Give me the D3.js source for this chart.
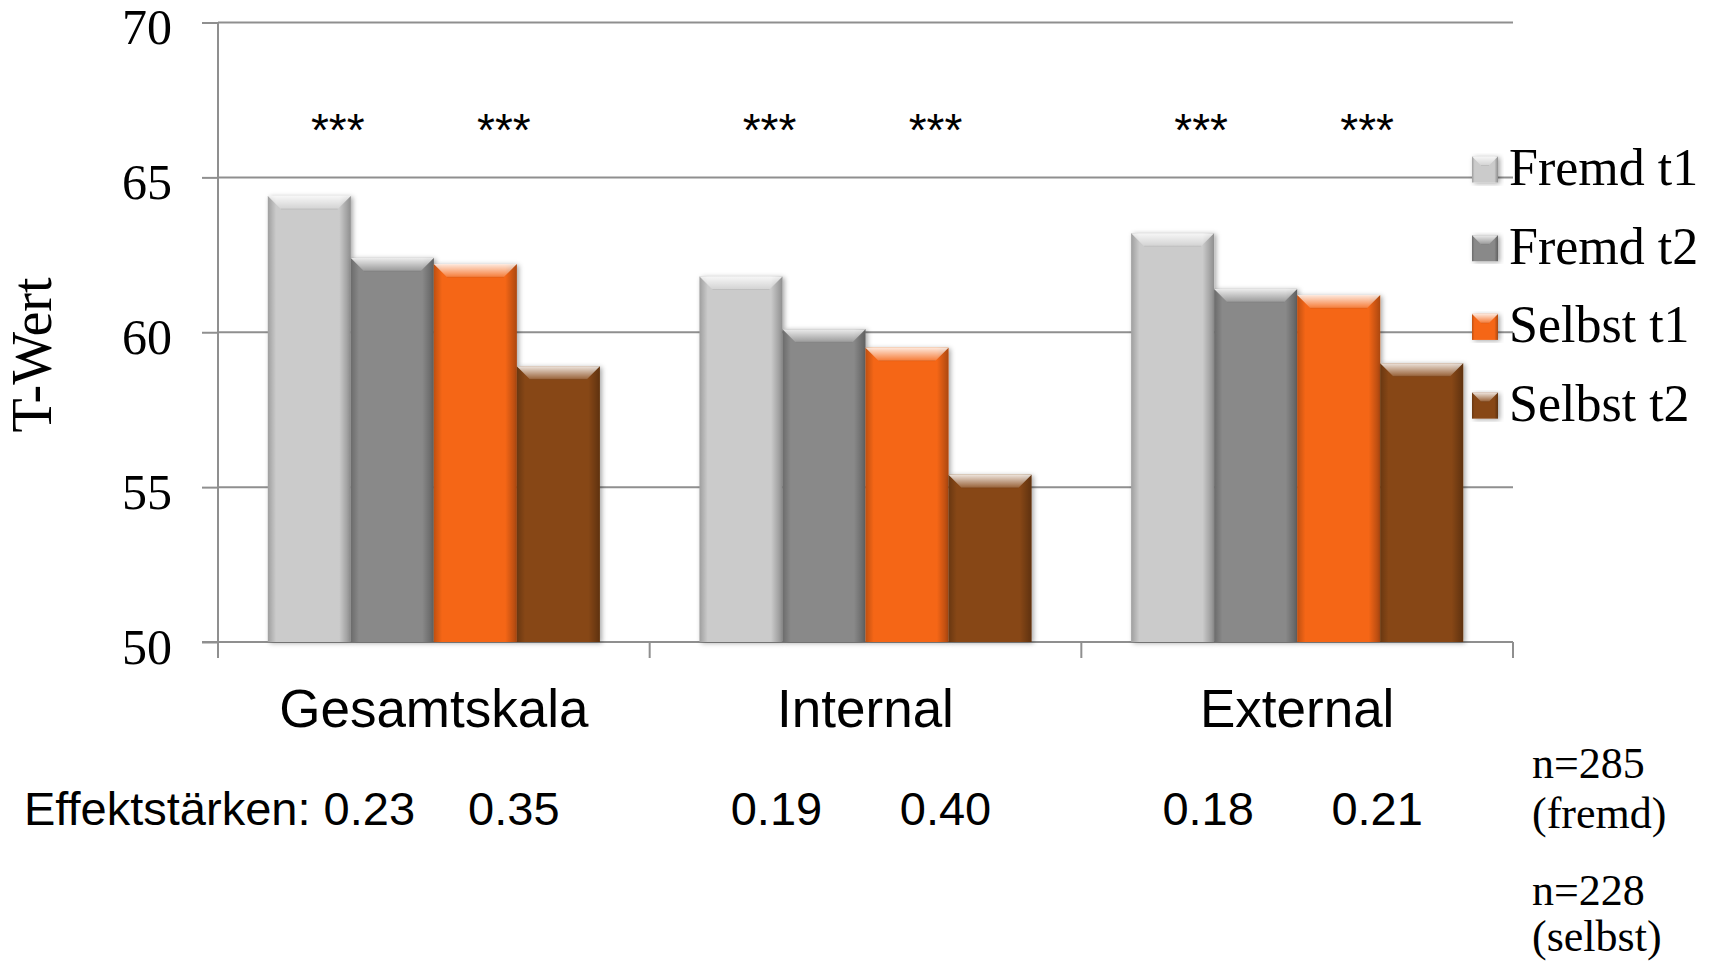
<!DOCTYPE html>
<html>
<head>
<meta charset="utf-8">
<script src="https://cdn.jsdelivr.net/npm/d3@7"></script>
<style>
  html, body { margin: 0; padding: 0; background: #ffffff; }
  svg { display: block; }
</style>
</head>
<body>
<svg id="chart" width="1729" height="963"></svg>
<script>
// ---- data ----
const categories = ["Gesamtskala", "Internal", "External"];
const seriesNames = ["Fremd t1", "Fremd t2", "Selbst t1", "Selbst t2"];
const fremdT1  = [64.4, 61.8, 63.2];
const fremdT2  = [62.4, 60.1, 61.4];
const selbstT1 = [62.2, 59.5, 61.2];
const selbstT2 = [58.9, 55.4, 59.0];
const yTicks = [50, 55, 60, 65, 70];
const fremdSignificance  = ["***", "***", "***"];
const selbstSignificance = ["***", "***", "***"];
const effectLabel = "Effektstärken:";
const effectFremd  = ["0.23", "0.19", "0.18"];
const effectSelbst = ["0.35", "0.40", "0.21"];
const sampleNotes = ["n=285", "(fremd)", "n=228", "(selbst)"];
const yTitle = "T-Wert";

const seriesValues = [fremdT1, fremdT2, selbstT1, selbstT2];
const table = categories.map((c, i) => ({
  category: c,
  values: seriesNames.map((s, k) => ({ series: s, value: seriesValues[k][i] }))
}));

// ---- layout ----
const svg = d3.select("#chart");
const serif = "'Liberation Serif', 'DejaVu Serif', serif";
const sans = "'Liberation Sans', Arial, sans-serif";
const gridColor = "#8f8f8f";

const x0 = d3.scaleBand().domain(categories).range([218, 1513]).paddingInner(0).paddingOuter(0);
const x1 = d3.scaleBand().domain(seriesNames).range([0, x0.bandwidth()]).paddingInner(0).paddingOuter(0.6);
const y = d3.scaleLinear().domain([50, 70]).range([642, 22.5]);
const color = d3.scaleOrdinal().domain(seriesNames).range(["#cbcbcb", "#898989", "#f56615", "#874613"]);

// ---- defs: shading for the bevelled bars ----
const defs = svg.append("defs");
const sheen = defs.append("linearGradient").attr("id", "topSheen")
  .attr("x1", 0).attr("y1", 0).attr("x2", 0).attr("y2", 1);
sheen.append("stop").attr("offset", 0).attr("stop-color", "#fff").attr("stop-opacity", 0.85);
sheen.append("stop").attr("offset", 1).attr("stop-color", "#fff").attr("stop-opacity", 0.15);

const sides = defs.append("linearGradient").attr("id", "sideShade")
  .attr("x1", 0).attr("y1", 0).attr("x2", 1).attr("y2", 0);
[[0, 0.22], [0.1, 0.0], [0.86, 0.0], [1, 0.3]].forEach(([o, a]) =>
  sides.append("stop").attr("offset", o).attr("stop-color", "#000").attr("stop-opacity", a));

const shadow = defs.append("filter").attr("id", "barShadow")
  .attr("x", "-20%").attr("y", "-10%").attr("width", "140%").attr("height", "120%");
shadow.append("feDropShadow").attr("dx", 2).attr("dy", 1).attr("stdDeviation", 2.5)
  .attr("flood-color", "#000").attr("flood-opacity", 0.35);

function bevelBlock(g, x, yTop, w, h, fill, b) {
  g.append("rect").attr("x", x).attr("y", yTop).attr("width", w).attr("height", h)
    .attr("fill", fill).attr("filter", "url(#barShadow)");
  g.append("rect").attr("x", x).attr("y", yTop).attr("width", w).attr("height", h)
    .attr("fill", "url(#sideShade)");
  g.append("polygon")
    .attr("points", [[x, yTop], [x + w, yTop], [x + w - b, yTop + b], [x + b, yTop + b]].map(p => p.join(",")).join(" "))
    .attr("fill", "url(#topSheen)");
  g.append("line").attr("x1", x + b).attr("x2", x + w - b).attr("y1", yTop + b).attr("y2", yTop + b)
    .attr("stroke", "#000").attr("stroke-opacity", 0.08).attr("stroke-width", 1);
}

// ---- gridlines ----
svg.append("g").selectAll("line").data(yTicks.filter(t => t > 50)).join("line")
  .attr("x1", 218).attr("x2", 1513)
  .attr("y1", d => y(d)).attr("y2", d => y(d))
  .attr("stroke", gridColor).attr("stroke-width", 2);

// ---- y axis ----
const yAxis = svg.append("g").attr("transform", "translate(218,0)")
  .call(d3.axisLeft(y).tickValues(yTicks).tickSize(16).tickSizeOuter(0).tickPadding(30).tickFormat(d3.format("d")));
yAxis.select(".domain").remove();
yAxis.selectAll(".tick line").attr("stroke", gridColor).attr("stroke-width", 2);
yAxis.selectAll(".tick text").attr("font-family", serif).attr("font-size", 50)
  .attr("fill", "#000").attr("dy", "0.42em");
svg.append("line").attr("x1", 218).attr("x2", 218).attr("y1", y(70)).attr("y2", 658)
  .attr("stroke", gridColor).attr("stroke-width", 2);

// ---- x axis ----
const xAxis = svg.append("g").attr("transform", `translate(0,${y(50)})`)
  .call(d3.axisBottom(x0).tickSize(0).tickSizeOuter(0).tickPadding(0));
xAxis.select(".domain").attr("stroke", gridColor).attr("stroke-width", 2).attr("d", "M202,0H1513");
xAxis.selectAll(".tick text").attr("font-family", sans).attr("font-size", 53)
  .attr("fill", "#000").attr("dy", 0).attr("y", 85);
svg.append("g").selectAll("line").data(categories).join("line")
  .attr("x1", d => x0(d) + x0.bandwidth()).attr("x2", d => x0(d) + x0.bandwidth())
  .attr("y1", y(50)).attr("y2", 658)
  .attr("stroke", gridColor).attr("stroke-width", 2);

// ---- bars ----
const groups = svg.append("g").selectAll("g").data(table).join("g")
  .attr("transform", d => `translate(${x0(d.category)},0)`);
groups.each(function (d) {
  const g = d3.select(this);
  d.values.forEach(v => {
    bevelBlock(g.append("g"), x1(v.series), y(v.value), x1.bandwidth(), y(50) - y(v.value), color(v.series), 13);
  });
});

// ---- significance stars ----
const starNudge = -13;
const stars = [];
categories.forEach((c, i) => {
  stars.push({ text: fremdSignificance[i], x: x0(c) + x1("Fremd t2") + starNudge });
  stars.push({ text: selbstSignificance[i], x: x0(c) + x1("Selbst t2") + starNudge });
});
svg.append("g").selectAll("text").data(stars).join("text")
  .attr("x", d => d.x).attr("y", y(66))
  .attr("text-anchor", "middle").attr("font-family", sans).attr("font-size", 46)
  .attr("fill", "#000").text(d => d.text);

// ---- legend ----
const legend = svg.append("g").selectAll("g").data(seriesNames).join("g")
  .attr("transform", (d, i) => `translate(1472,${185 + i * 78.7})`);
legend.each(function (d) {
  bevelBlock(d3.select(this), 0, -28.5, 26, 26, color(d), 9);
});
legend.append("text").attr("x", 37).attr("y", 0)
  .attr("font-family", serif).attr("font-size", 52).attr("fill", "#000").text(d => d);

// ---- y title ----
svg.append("text").attr("transform", "translate(51,355) rotate(-90)")
  .attr("text-anchor", "middle").attr("font-family", serif).attr("font-size", 56)
  .attr("fill", "#000").text(yTitle);

// ---- effect sizes row ----
const effectRow = svg.append("g").attr("font-family", sans).attr("font-size", 47).attr("fill", "#000");
effectRow.append("text").attr("x", 24).attr("y", 825).text(`${effectLabel} ${effectFremd[0]}`);
const effects = [];
categories.forEach((c, i) => {
  if (i > 0) effects.push({ text: effectFremd[i], x: x0(c) + x1("Fremd t2") - 6 });
  effects.push({ text: effectSelbst[i], x: x0(c) + x1("Selbst t2") - 3 });
});
effectRow.selectAll("text.effect").data(effects).join("text").attr("class", "effect")
  .attr("x", d => d.x).attr("y", 825).attr("text-anchor", "middle").text(d => d.text);

// ---- sample sizes ----
const noteBaselines = [778, 828, 905, 951];
svg.append("g").selectAll("text").data(sampleNotes).join("text")
  .attr("x", 1532).attr("y", (d, i) => noteBaselines[i])
  .attr("font-family", serif).attr("font-size", 44).attr("fill", "#000").text(d => d);
</script>
</body>
</html>
